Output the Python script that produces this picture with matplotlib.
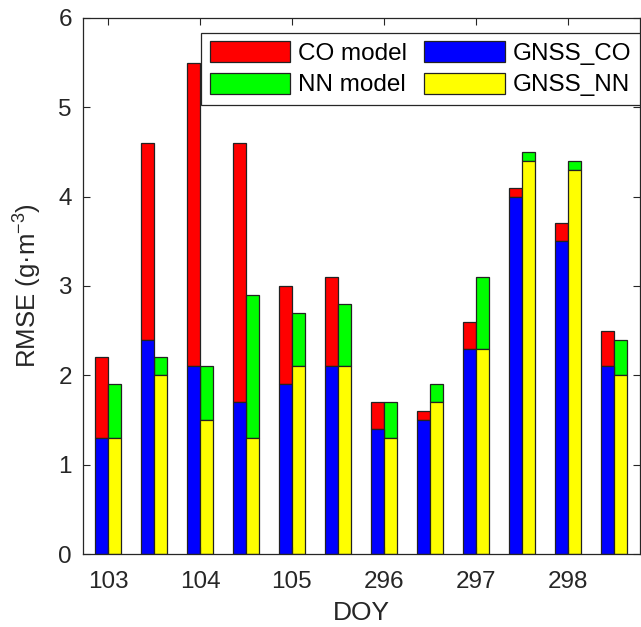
import numpy as np
import matplotlib.pyplot as plt

plt.rcParams['font.family'] = ['Liberation Sans', 'DejaVu Sans']
plt.rcParams['mathtext.fontset'] = 'custom'
plt.rcParams['mathtext.rm'] = 'Liberation Sans'
plt.rcParams['mathtext.it'] = 'Liberation Sans'

# data
doy_labels = ['103', '104', '105', '296', '297', '298']
co_model = [2.2, 4.6, 5.5, 4.6, 3.0, 3.1, 1.7, 1.6, 2.6, 4.1, 3.7, 2.5]
gnss_co = [1.3, 2.4, 2.1, 1.7, 1.9, 2.1, 1.4, 1.5, 2.3, 4.0, 3.5, 2.1]
nn_model = [1.9, 2.2, 2.1, 2.9, 2.7, 2.8, 1.7, 1.9, 3.1, 4.5, 4.4, 2.4]
gnss_nn = [1.3, 2.0, 1.5, 1.3, 2.1, 2.1, 1.3, 1.7, 2.3, 4.4, 4.3, 2.0]

x = np.arange(1, len(co_model) + 1)
w = 0.28
ec = '#222222'

fig = plt.figure(figsize=(6.41, 6.27), dpi=100)
ax = fig.add_axes([0.1295, 0.1164, 0.869, 0.855])

gco = np.array(gnss_co)
gnn = np.array(gnss_nn)
ax.bar(x - w/2, np.array(co_model) - gco, w, bottom=gco, color='#ff0000', edgecolor=ec, linewidth=0.9, label='CO model')
ax.bar(x + w/2, np.array(nn_model) - gnn, w, bottom=gnn, color='#00ff00', edgecolor=ec, linewidth=0.9, label='NN model')
ax.bar(x - w/2, gco, w, color='#0000ff', edgecolor=ec, linewidth=0.9, label='GNSS_CO')
ax.bar(x + w/2, gnn, w, color='#ffff00', edgecolor=ec, linewidth=0.9, label='GNSS_NN')

ax.set_xlim(0.457, 12.57)
ax.set_ylim(0, 6)
ax.set_xticks(x[::2])
ax.set_xticklabels(doy_labels)
ax.set_yticks(range(0, 7))
ax.tick_params(direction='in', top=True, right=True, labelsize=17.5, colors='#262626', length=5)
ax.tick_params(axis='x', pad=12)
ax.tick_params(axis='y', pad=8)
for s in ax.spines.values():
    s.set_color('#262626')
    s.set_linewidth(0.9)

ax.set_xlabel('DOY', fontsize=19, color='#262626', labelpad=6)
ax.set_ylabel('RMSE (g·m$^{\\mathregular{-3}}$)', fontsize=18.5, color='#262626', labelpad=10)

leg = ax.legend(ncol=2, loc='upper right', bbox_to_anchor=(1.0, 0.972), borderaxespad=0,
                fontsize=17.5, handlelength=3.3, handleheight=0.95, handletextpad=0.35,
                columnspacing=0.7, labelspacing=0.3, borderpad=0.35, fancybox=False,
                framealpha=1)
leg.get_frame().set_edgecolor('#262626')
leg.get_frame().set_linewidth(0.9)

plt.savefig('out.png')
